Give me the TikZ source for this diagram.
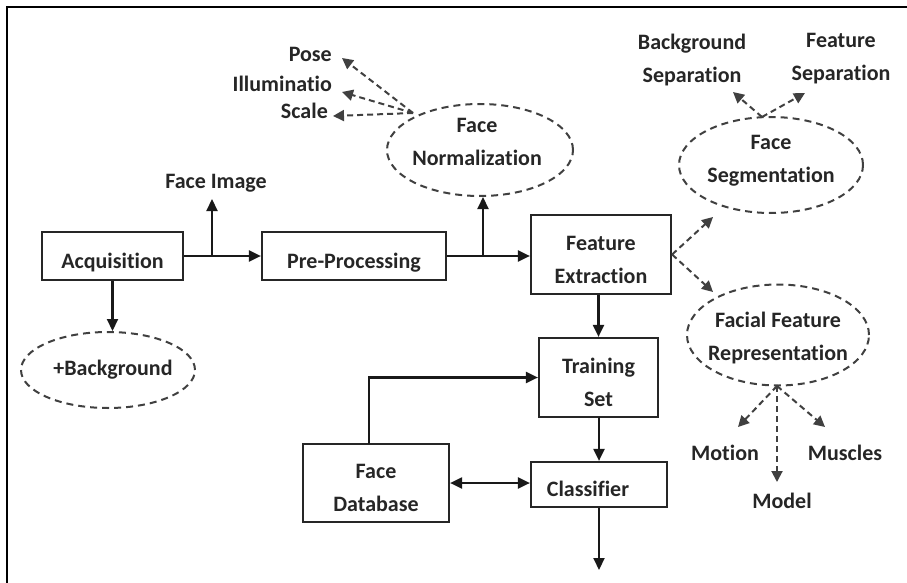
\documentclass[tikz,border=0pt]{standalone}
\usepackage{fontspec}
\setmainfont{Carlito}[Ligatures=NoCommon]
\usetikzlibrary{arrows.meta,shapes.geometric,calc}

% box captions sit a little below the box centre
\newcommand{\boxtext}[1]{\raisebox{-5.5pt}[\height][\depth]{\begin{tabular}{@{}c@{}}#1\end{tabular}}}

\begin{document}
\begin{tikzpicture}[x=1pt,y=-1pt,
  txt/.style={font=\fontsize{22}{33}\selectfont\bfseries, text=black!85, inner sep=0pt, align=center},
  box/.style={font=\fontsize{22}{33}\selectfont\bfseries, text=black!85, inner sep=0pt, draw=black!85, line width=2.2pt},
  ell/.style={draw=black!75, ellipse, dash pattern=on 7pt off 5pt, line width=2pt, inner sep=0pt},
  arr/.style={-{Triangle[length=12pt,width=11pt]}, line width=2.1pt, draw=black!90},
  darr/.style={-{Triangle[length=11pt,width=11pt]}, line width=2pt, draw=black!75, dash pattern=on 6pt off 4pt}]

\useasboundingbox (0,0) rectangle (907,583);

% outer frame (top and left edges)
\draw[line width=2.2pt] (7,583) -- (7,7) -- (907,7);

% process boxes
\node[box, minimum width=141, minimum height=48] (acq) at (112.5,256) {\boxtext{Acquisition}};
\node[box, minimum width=184, minimum height=48] (pre) at (354,256) {\boxtext{Pre-Processing}};
\node[box, minimum width=140, minimum height=79] (fe)  at (601,254.5) {\boxtext{Feature\\Extraction}};
\node[box, minimum width=119, minimum height=79] (ts)  at (598.5,377.5) {\boxtext{Training\\Set}};
\node[box, minimum width=136, minimum height=45] (cls) at (599,484.5) {\boxtext{Classifier\hspace*{22pt}}};
\node[box, minimum width=146, minimum height=78] (db)  at (376,483) {\boxtext{Face\\Database}};

% dashed ellipses and their texts
\node[ell, minimum width=174, minimum height=76] (bg)  at (108,370) {};
\node[txt] (bgText) at (113,370) {+Background};
\node[ell, minimum width=186, minimum height=92] (fn)  at (480,150) {};
\node[txt] (fnText) at (477,142) {Face\\Normalization};
\node[ell, minimum width=184, minimum height=96] (fs)  at (771,165) {};
\node[txt] (fsText) at (771,161) {Face\\Segmentation};
\node[ell, minimum width=182, minimum height=101] (ffr) at (778,335) {};
\node[txt] (ffrText) at (778,338) {Facial Feature\\Representation};

% plain labels
\node[txt] (faceimg) at (216,183) {Face Image};
\node[txt, anchor=east] (pose)  at (332,54) {Pose};
\node[txt, anchor=east] (illum) at (332,84) {Illuminatio};
\node[txt, anchor=east] (scale) at (328,111) {Scale};
\node[txt] (bgsep) at (692,60) {Background\\Separation};
\node[txt] (ftsep) at (841,59) {Feature\\Separation};
\node[txt] (motion)  at (725,453) {Motion};
\node[txt] (muscles) at (845,453) {Muscles};
\node[txt] (model)   at (782,501) {Model};

% junctions and arrow ends
\coordinate (j1) at (212,256);
\coordinate (j2) at (483,256);
\coordinate (fiTip) at (212,199);
\coordinate (fnO) at (413,113);
\coordinate (poseTip) at (342,58);
\coordinate (illumTip) at (342,92);
\coordinate (scaleTip) at (333,116);
\coordinate (fsO) at (762,117);
\coordinate (bgsepTip) at (733,92);
\coordinate (ftsepTip) at (805,93);
\coordinate (fsTip) at (713,217);
\coordinate (ffrTip) at (713,292);
\coordinate (ffrO) at (777,386);
\coordinate (motionTip) at (738,427);
\coordinate (musclesTip) at (825,427);
\coordinate (modelTip) at (777,482);
\coordinate (out) at (599,570);
\coordinate (dbUp) at (369,444);

% solid flow
\draw[arr] (acq.east) -- (pre.west);
\draw[arr] (j1) -- (fiTip);
\draw[arr] (acq.south) -- (acq.south |- bg.north);
\draw[arr] (pre.east) -- (pre.east -| fe.west);
\draw[arr] (j2) -- (j2 |- fn.south);
\draw[arr] (ts.north |- fe.south) -- (ts.north);
\draw[arr] (ts.south) -- (cls.north |- ts.south) -- (cls.north);
\draw[arr] (cls.south) -- (out);
\draw[arr] (dbUp) |- (ts.west);
\draw[arr, {Triangle[length=12pt,width=11pt]}-{Triangle[length=12pt,width=11pt]}] (db.east) -- (db.east -| cls.west);

% dashed branches
\draw[darr] (fnO) -- (poseTip);
\draw[darr] (fnO) -- (illumTip);
\draw[darr] (fnO) -- (scaleTip);
\draw[darr] (fsO) -- (bgsepTip);
\draw[darr] (fsO) -- (ftsepTip);
\draw[darr] (fe.east) -- (fsTip);
\draw[darr] (fe.east) -- (ffrTip);
\draw[darr] (ffrO) -- (motionTip);
\draw[darr] (ffrO) -- (musclesTip);
\draw[darr] (ffrO) -- (modelTip);
\end{tikzpicture}
\end{document}
